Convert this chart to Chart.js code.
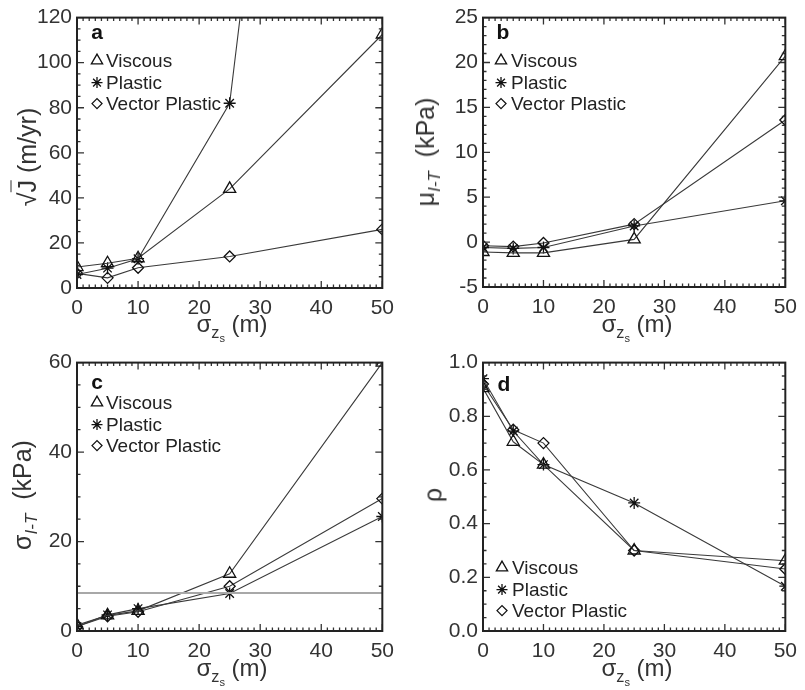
<!DOCTYPE html>
<html>
<head>
<meta charset="utf-8">
<script src="https://cdn.jsdelivr.net/npm/chart.js@4.4.0/dist/chart.umd.min.js"></script>
<style>
body{margin:0;background:#fff;width:805px;height:690px;position:relative;overflow:hidden;font-family:"Liberation Sans",Arial,sans-serif;color:#333}
canvas{position:absolute}
.t{position:absolute;font-size:24px;white-space:nowrap;transform:translate(-50%,-50%)}
.rot{transform:translate(-50%,-50%) rotate(-90deg);font-size:25px}
sub{font-size:68%}
.ov{border-top:1.5px solid #333;padding-top:1px}
</style>
</head>
<body>
<canvas id="ca" width="402" height="345" style="left:0;top:0"></canvas>
<canvas id="cb" width="403" height="345" style="left:402px;top:0"></canvas>
<canvas id="cc" width="402" height="345" style="left:0;top:345px"></canvas>
<canvas id="cd" width="403" height="345" style="left:402px;top:345px"></canvas>

<div class="t rot" style="left:27px;top:157px">√<span class="ov">J</span> (m/yr)</div>
<div class="t rot" style="left:428px;top:152px">μ<sub><i>I-T</i></sub>&nbsp;&nbsp;(kPa)</div>
<div class="t rot" style="left:25px;top:495px">σ<sub><i>I-T</i></sub>&nbsp;&nbsp;(kPa)</div>
<div class="t rot" style="left:433px;top:495px">ρ</div>
<div class="t" style="left:232px;top:327px">σ<sub>z<sub>s</sub></sub> (m)</div>
<div class="t" style="left:637px;top:327px">σ<sub>z<sub>s</sub></sub> (m)</div>
<div class="t" style="left:232px;top:671px">σ<sub>z<sub>s</sub></sub> (m)</div>
<div class="t" style="left:637px;top:671px">σ<sub>z<sub>s</sub></sub> (m)</div>

<script>
const xVals = [0, 5, 10, 25, 50];
const seriesNames = ['Viscous', 'Plastic', 'Vector Plastic'];

// a: sqrt(J) (m/yr)
const aViscous = [9.3, 11, 13.2, 44, 112.5];
const aPlastic = [6, 8.8, 13, 82, 640];
const aVector  = [6.5, 4.5, 9, 14, 26];

// b: mu I-T (kPa)
const bViscous = [-1.1, -1.2, -1.2, 0.3, 20.7];
const bPlastic = [-0.6, -0.7, -0.6, 1.8, 4.6];
const bVector  = [-0.4, -0.5, -0.1, 2.0, 13.6];

// c: sigma I-T (kPa)
const cViscous = [1.3, 3.5, 4.5, 12.8, 60];
const cPlastic = [1.0, 3.6, 5.0, 8.4, 25.6];
const cVector  = [1.0, 3.3, 4.3, 10.0, 29.6];
const cLevelX  = [0, 50];
const cLevelY  = [8.5, 8.5];

// d: rho
const dViscous = [0.905, 0.705, 0.62, 0.30, 0.262];
const dPlastic = [0.94, 0.745, 0.62, 0.477, 0.167];
const dVector  = [0.92, 0.75, 0.70, 0.30, 0.231];

const styles = [
  {pointStyle: 'triangle', pointRadius: 7},
  {pointStyle: 'star', pointRadius: 6},
  {pointStyle: 'rectRot', pointRadius: 5.5}
];

function pts(xs, ys){
  return xs.map((x, i) => ({x: x, y: ys[i]}));
}

function makeSets(list){
  return list.map((ys, i) => ({
    label: seriesNames[i],
    data: pts(xVals, ys),
    borderColor: '#3a3a3a',
    borderWidth: 1.1,
    pointStyle: styles[i].pointStyle,
    pointRadius: styles[i].pointRadius,
    pointBorderColor: '#111',
    pointBorderWidth: 1.3,
    pointBackgroundColor: 'rgba(255,255,255,0)',
    backgroundColor: 'rgba(255,255,255,0)',
    tension: 0
  }));
}

// frame with inward ticks on all 4 sides
function framePlugin(t){
  return {
    id: 'frame',
    afterDraw(chart){
      const c = chart.ctx, a = chart.chartArea;
      const xs = chart.scales.x, ys = chart.scales.y;
      c.save();
      c.strokeStyle = '#333';
      c.lineWidth = 1.3;
      c.beginPath();
      const nx = Math.round((t.xMax - t.xMin) / t.xMinor);
      for (let i = 0; i <= nx; i++) {
        const v = t.xMin + i * t.xMinor;
        const px = xs.getPixelForValue(v);
        const len = (i % t.xEvery === 0) ? 7 : 3.5;
        c.moveTo(px, a.bottom); c.lineTo(px, a.bottom - len);
        c.moveTo(px, a.top); c.lineTo(px, a.top + len);
      }
      const ny = Math.round((t.yMax - t.yMin) / t.yMinor);
      for (let i = 0; i <= ny; i++) {
        const v = t.yMin + i * t.yMinor;
        const py = ys.getPixelForValue(v);
        const len = (i % t.yEvery === 0) ? 7 : 3.5;
        c.moveTo(a.left, py); c.lineTo(a.left + len, py);
        c.moveTo(a.right, py); c.lineTo(a.right - len, py);
      }
      c.stroke();
      c.lineWidth = 2;
      c.strokeStyle = '#222';
      c.strokeRect(a.left, a.top, a.right - a.left, a.bottom - a.top);
      c.restore();
    }
  };
}

// panel letter and legend inside the plot
function insetPlugin(o){
  return {
    id: 'inset',
    afterDraw(chart){
      const c = chart.ctx, a = chart.chartArea;
      c.save();
      c.fillStyle = '#111';
      c.font = 'bold 21px "Liberation Sans", Arial, sans-serif';
      c.textAlign = 'center';
      c.textBaseline = 'middle';
      c.fillText(o.letter, a.left + o.letterX, a.top + o.letterY);
      c.font = '19px "Liberation Sans", Arial, sans-serif';
      c.textAlign = 'left';
      for (let i = 0; i < 3; i++) {
        const y = a.top + o.rows[i];
        const st = styles[i];
        c.fillStyle = 'rgba(255,255,255,0)';
        c.strokeStyle = '#111';
        c.lineWidth = 1.3;
        Chart.helpers.drawPoint(c, {pointStyle: st.pointStyle, radius: st.pointRadius - 0.5, rotation: 0, borderWidth: 1.3}, a.left + o.symX, y);
        c.fillStyle = '#222';
        c.fillText(seriesNames[i], a.left + o.textX, y + 1);
      }
      c.restore();
    }
  };
}

function panel(id, sets, y, lay, inset){
  const ticks = {xMin: 0, xMax: 50, xMinor: 1, xEvery: 10,
                 yMin: y.min, yMax: y.max, yMinor: y.minor, yEvery: Math.round(y.step / y.minor)};
  return new Chart(document.getElementById(id), {
    type: 'line',
    data: {datasets: sets},
    plugins: [framePlugin(ticks), insetPlugin(inset)],
    options: {
      responsive: false,
      animation: false,
      layout: {padding: {top: lay.top, right: lay.right, left: 0, bottom: 0}},
      scales: {
        x: {
          type: 'linear', min: 0, max: 50,
          grid: {display: false, drawTicks: false},
          border: {display: false},
          ticks: {stepSize: 10, padding: 8, color: '#333', font: {size: 21, family: '"Liberation Sans", Arial, sans-serif'}},
          afterFit(s){ s.height = lay.xH; }
        },
        y: {
          type: 'linear', min: y.min, max: y.max,
          grid: {display: false, drawTicks: false},
          border: {display: false},
          ticks: {stepSize: y.step, padding: 5, color: '#333', font: {size: 21, family: '"Liberation Sans", Arial, sans-serif'},
            callback: y.fmt || (v => v)},
          afterFit(s){ s.width = lay.yW; }
        }
      },
      plugins: {
        legend: {display: false},
        tooltip: {enabled: false}
      }
    }
  });
}

panel('ca', makeSets([aViscous, aPlastic, aVector]),
  {min: 0, max: 120, step: 20, minor: 5},
  {top: 17, right: 16, yW: 77, xH: 57},
  {letter: 'a', letterX: 20, letterY: 16, symX: 20, textX: 29, rows: [43, 65, 86]});

panel('cb', makeSets([bViscous, bPlastic, bVector]),
  {min: -5, max: 25, step: 5, minor: 1},
  {top: 17, right: 14, yW: 81, xH: 58},
  {letter: 'b', letterX: 20, letterY: 16, symX: 18, textX: 28, rows: [43, 65, 86]});

const cSets = makeSets([cViscous, cPlastic, cVector]);
// grey reference level, drawn first
cSets.unshift({
  label: 'level',
  data: pts(cLevelX, cLevelY),
  borderColor: '#a8a8a8',
  borderWidth: 2,
  pointRadius: 0
});
panel('cc', cSets,
  {min: 0, max: 60, step: 20, minor: 5},
  {top: 16, right: 16, yW: 77, xH: 59},
  {letter: 'c', letterX: 20, letterY: 21, symX: 20, textX: 29, rows: [40, 62, 83]});

panel('cd', makeSets([dViscous, dPlastic, dVector]),
  {min: 0, max: 1, step: 0.2, minor: 0.05, fmt: v => v.toFixed(1)},
  {top: 15, right: 14, yW: 81, xH: 59},
  {letter: 'd', letterX: 21, letterY: 23, symX: 19, textX: 29, rows: [205, 227, 248]});
</script>
</body>
</html>
